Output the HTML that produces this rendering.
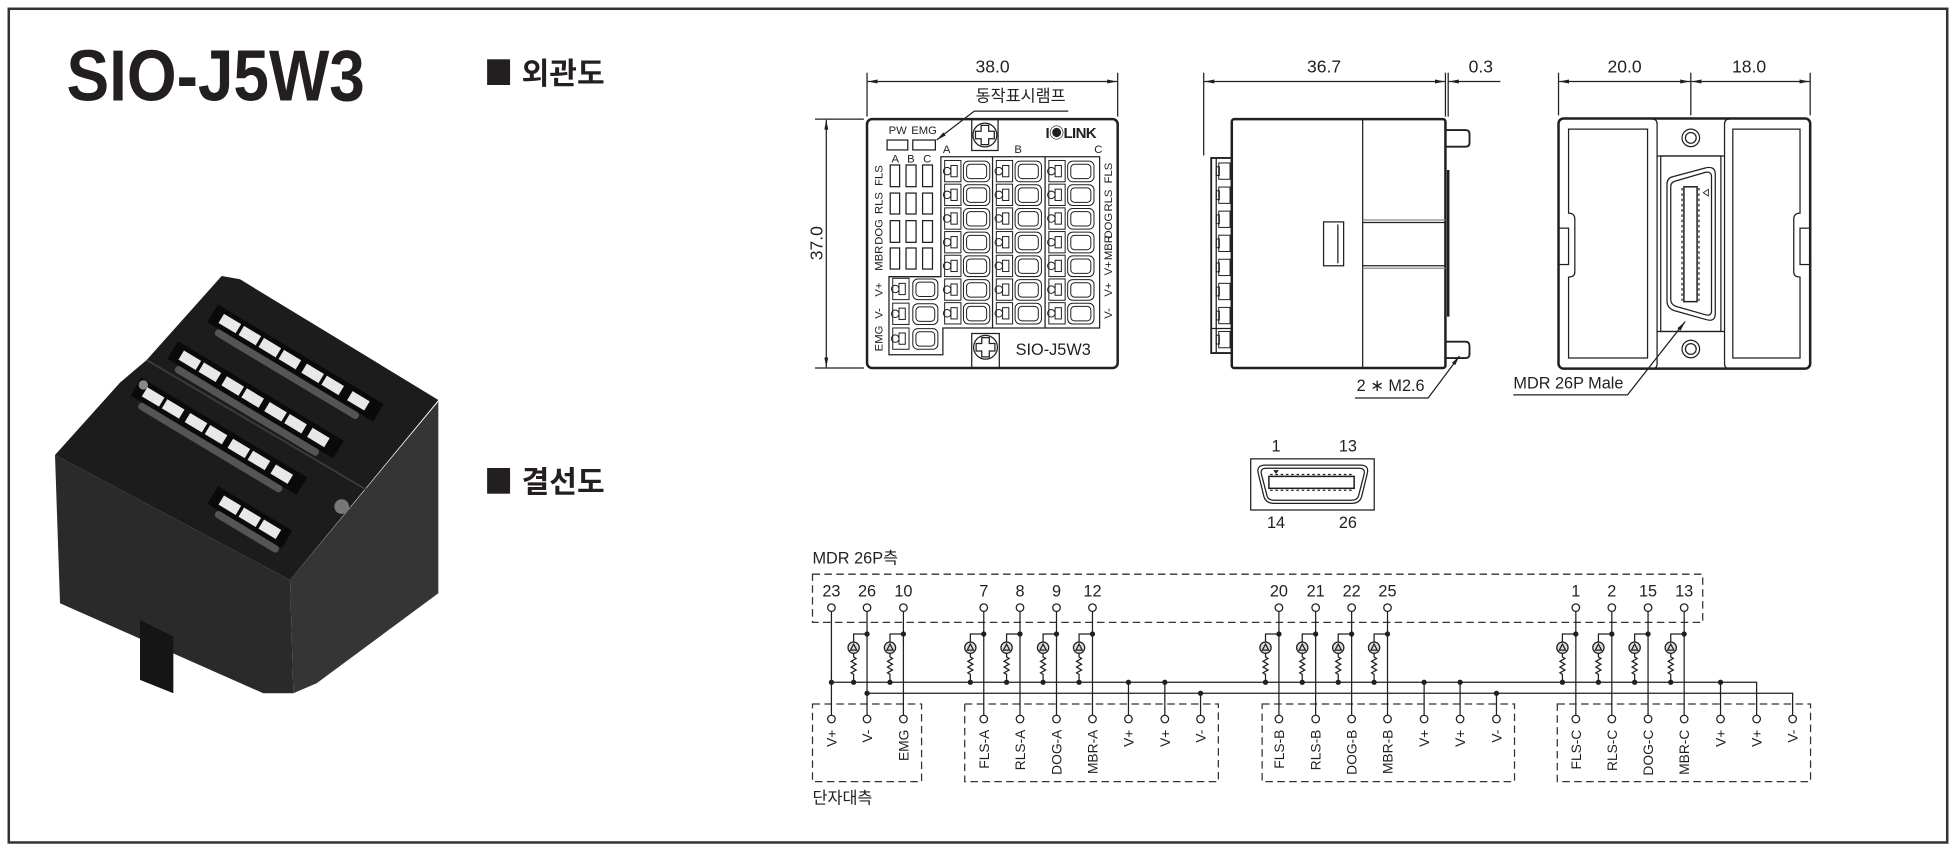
<!DOCTYPE html>
<html><head><meta charset="utf-8"><style>
html,body{margin:0;padding:0;background:#fff;}
svg{display:block;}
text{font-family:"Liberation Sans","Noto Sans CJK KR",sans-serif;fill:#231f20;}
</style></head><body>
<svg xmlns="http://www.w3.org/2000/svg" width="1956" height="850" viewBox="0 0 1560 678" preserveAspectRatio="none">
<defs>
<marker id="ar" viewBox="0 0 10 4" refX="10" refY="2" markerWidth="8" markerHeight="3.2" markerUnits="userSpaceOnUse" orient="auto-start-reverse"><path d="M0 0 L10 2 L0 4 Z" fill="#231f20"/></marker>
</defs>
<rect x="0" y="0" width="1560" height="678" fill="#fff"/>
<rect x="7" y="7" width="1546" height="665" fill="none" stroke="#333" stroke-width="2"/>

<!-- Title -->
<text x="53" y="80" font-size="58" font-weight="bold" textLength="238" lengthAdjust="spacingAndGlyphs">SIO-J5W3</text>
<rect x="388.5" y="47.3" width="18.3" height="20.5" fill="#231f20"/>
<text x="416" y="67" font-size="24" font-weight="bold">외관도</text>
<rect x="388.5" y="373.3" width="18.3" height="20.5" fill="#231f20"/>
<text x="416" y="393" font-size="24" font-weight="bold">결선도</text>

<!-- Photo -->
<g transform="translate(23.93,207.37) scale(0.26585)">
<polygon points="75,585 780,960 790,1300 700,1300 90,1030" fill="#2a2a2a"/>
<polygon points="780,960 1225,425 1225,1000 860,1270 790,1300" fill="#353535"/>
<polygon points="75,585 270,368 350,300 575,48 630,58 1225,420 780,960" fill="#1c1c1c"/>
<polygon points="330,1080 430,1130 430,1300 330,1260" fill="#151515"/>
<line x1="350" y1="300" x2="1010" y2="690" stroke="#3a3a3a" stroke-width="6"/>
<g fill="#0a0a0a">
<g transform="rotate(31 600 190)"><rect x="540" y="160" width="580" height="62"/></g>
<g transform="rotate(31 480 300)"><rect x="420" y="270" width="580" height="62"/></g>
<g transform="rotate(31 370 410)"><rect x="310" y="380" width="580" height="62"/></g>
<g transform="rotate(31 600 735)"><rect x="540" y="705" width="260" height="62"/></g>
</g>
<g fill="#555">
<g transform="rotate(31 600 190)"><rect x="575" y="222" width="500" height="22" rx="10"/></g>
<g transform="rotate(31 480 300)"><rect x="455" y="332" width="500" height="22" rx="10"/></g>
<g transform="rotate(31 370 410)"><rect x="345" y="442" width="500" height="22" rx="10"/></g>
<g transform="rotate(31 600 735)"><rect x="575" y="767" width="220" height="22" rx="10"/></g>
</g>
<g fill="#e8e8e8">
<g transform="rotate(31 600 190)"><rect x="570" y="175" width="60" height="32"/><rect x="640" y="175" width="60" height="32"/><rect x="710" y="175" width="60" height="32"/><rect x="780" y="175" width="60" height="32"/><rect x="860" y="175" width="60" height="32"/><rect x="930" y="175" width="60" height="32"/><rect x="1020" y="175" width="60" height="32"/></g>
<g transform="rotate(31 480 300)"><rect x="450" y="285" width="60" height="32"/><rect x="520" y="285" width="60" height="32"/><rect x="600" y="285" width="60" height="32"/><rect x="670" y="285" width="60" height="32"/><rect x="750" y="285" width="60" height="32"/><rect x="820" y="285" width="60" height="32"/><rect x="900" y="285" width="60" height="32"/></g>
<g transform="rotate(31 370 410)"><rect x="340" y="395" width="60" height="32"/><rect x="410" y="395" width="60" height="32"/><rect x="490" y="395" width="60" height="32"/><rect x="560" y="395" width="60" height="32"/><rect x="640" y="395" width="60" height="32"/><rect x="710" y="395" width="60" height="32"/><rect x="790" y="395" width="60" height="32"/></g>
<g transform="rotate(31 600 735)"><rect x="570" y="720" width="60" height="32"/><rect x="640" y="720" width="60" height="32"/><rect x="710" y="720" width="60" height="32"/></g>
</g>
<circle cx="935" cy="740" r="22" fill="#777"/>
<circle cx="340" cy="375" r="14" fill="#888"/>
</g>

<!-- ===== Front view ===== -->
<g fill="none" stroke="#231f20" stroke-width="1">
<line x1="691.5" y1="58" x2="691.5" y2="93"/>
<line x1="891.4" y1="58" x2="891.4" y2="93"/>
<line x1="692" y1="65" x2="891" y2="65" marker-start="url(#ar)" marker-end="url(#ar)"/>
<line x1="650" y1="95" x2="689" y2="95"/>
<line x1="650" y1="293.5" x2="689" y2="293.5"/>
<line x1="659" y1="95.5" x2="659" y2="293" marker-start="url(#ar)" marker-end="url(#ar)"/>
<rect x="691.5" y="95" width="199.9" height="198.5" rx="4" stroke-width="2"/>
<polyline points="852,88.6 777,88.6 747,111.7" marker-end="url(#ar)"/>
<path d="M775 95 V120 H796 V95"/>
<circle cx="785.5" cy="107.7" r="9.5"/>
<path d="M782.5 100 H788.5 V104.7 H793 V110.7 H788.5 V115.4 H782.5 V110.7 H778 V104.7 H782.5 Z"/>
<path d="M775 293.5 V266 H797 V293.5"/>
<circle cx="786" cy="277" r="9.5"/>
<path d="M783 269.3 H789 V274 H793.5 V280 H789 V284.7 H783 V280 H778.5 V274 H783 Z"/>
<rect x="707.5" y="111.7" width="16.5" height="7.9"/>
<rect x="728" y="111.7" width="18" height="7.9"/>
<rect x="710" y="131.6" width="7.5" height="17.3"/><rect x="722.6" y="131.6" width="8" height="17.3"/><rect x="735.8" y="131.6" width="7.9" height="17.3"/>
<rect x="710" y="154" width="7.5" height="16.7"/><rect x="722.6" y="154" width="8" height="16.7"/><rect x="735.8" y="154" width="7.9" height="16.7"/>
<rect x="710" y="176" width="7.5" height="17.3"/><rect x="722.6" y="176" width="8" height="17.3"/><rect x="735.8" y="176" width="7.9" height="17.3"/>
<rect x="710" y="197.8" width="7.5" height="16.8"/><rect x="722.6" y="197.8" width="8" height="16.8"/><rect x="735.8" y="197.8" width="7.9" height="16.8"/>
<path d="M750.4 125 H877 V261.6 H752 V283 H709 V220.7 H750.4 Z"/>
<line x1="791.6" y1="125" x2="791.6" y2="261.6"/>
<line x1="833.5" y1="125" x2="833.5" y2="261.6"/>
</g>
<g id="termrows" fill="none" stroke="#231f20" stroke-width="0.8"></g>
<g font-size="9">
<text x="716" y="107" text-anchor="middle" font-size="9">PW</text>
<text x="737" y="107" text-anchor="middle" font-size="9">EMG</text>
<text x="714" y="129.5" text-anchor="middle">A</text>
<text x="726.5" y="129.5" text-anchor="middle">B</text>
<text x="739.5" y="129.5" text-anchor="middle">C</text>
<text x="755" y="122" text-anchor="middle">A</text>
<text x="812" y="122" text-anchor="middle">B</text>
<text x="876" y="122" text-anchor="middle">C</text>
<g transform="translate(704,140) rotate(-90)"><text text-anchor="middle">FLS</text></g>
<g transform="translate(704,162) rotate(-90)"><text text-anchor="middle">RLS</text></g>
<g transform="translate(704,185) rotate(-90)"><text text-anchor="middle">DOG</text></g>
<g transform="translate(704,206) rotate(-90)"><text text-anchor="middle">MBR</text></g>
<g transform="translate(704,231) rotate(-90)"><text text-anchor="middle">V+</text></g>
<g transform="translate(704,250) rotate(-90)"><text text-anchor="middle">V-</text></g>
<g transform="translate(704,270) rotate(-90)"><text text-anchor="middle">EMG</text></g>
<g transform="translate(887,138) rotate(-90)"><text text-anchor="middle">FLS</text></g>
<g transform="translate(887,160) rotate(-90)"><text text-anchor="middle">RLS</text></g>
<g transform="translate(887,180) rotate(-90)"><text text-anchor="middle">DOG</text></g>
<g transform="translate(887,197.5) rotate(-90)"><text text-anchor="middle">MBR</text></g>
<g transform="translate(887,214) rotate(-90)"><text text-anchor="middle">V+</text></g>
<g transform="translate(887,231) rotate(-90)"><text text-anchor="middle">V+</text></g>
<g transform="translate(887,250) rotate(-90)"><text text-anchor="middle">V-</text></g>
</g>
<text x="791.6" y="58" font-size="14" text-anchor="middle">38.0</text>
<g transform="translate(656,194) rotate(-90)"><text font-size="14" text-anchor="middle">37.0</text></g>
<text x="814" y="81" font-size="13" text-anchor="middle">동작표시램프</text>
<text x="854" y="110" font-size="12" font-weight="bold" text-anchor="middle" letter-spacing="-0.5">I◉LINK</text>
<text x="840" y="283" font-size="13" text-anchor="middle">SIO-J5W3</text>

<!-- ===== Side view ===== -->
<g fill="none" stroke="#231f20" stroke-width="1">
<line x1="960" y1="58" x2="960" y2="124"/>
<line x1="1152.8" y1="58" x2="1152.8" y2="93"/>
<line x1="1155" y1="58" x2="1155" y2="93"/>
<line x1="960.5" y1="65" x2="1152.3" y2="65" marker-start="url(#ar)" marker-end="url(#ar)"/>
<line x1="1196.6" y1="65" x2="1155.5" y2="65" marker-end="url(#ar)"/>
<rect x="982.4" y="95" width="170.4" height="198.5" rx="2" stroke-width="2"/>
<rect x="966" y="126" width="16.4" height="155.6" stroke-width="1.5"/>
<line x1="970" y1="126" x2="970" y2="281.6"/>
<line x1="966" y1="262" x2="982" y2="262"/>
<line x1="1086.8" y1="95" x2="1086.8" y2="293.5"/>
<line x1="1086.8" y1="175.5" x2="1152.8" y2="175.5" stroke="#888"/>
<line x1="1086.8" y1="177.5" x2="1152.8" y2="177.5"/>
<line x1="1086.8" y1="212" x2="1152.8" y2="212"/>
<line x1="1086.8" y1="214" x2="1152.8" y2="214" stroke="#888"/>
<rect x="1055.6" y="177" width="16" height="35"/>
<line x1="1067" y1="179" x2="1067" y2="210"/>
<line x1="1155" y1="135.6" x2="1155" y2="252.6" stroke-width="2"/>
<path d="M1153 103.7 H1169 Q1172 103.7 1172 107 V114 Q1172 117 1169 117 H1153" stroke-width="1.5"/>
<path d="M1153 272.5 H1169 Q1172 272.5 1172 276 V282.5 Q1172 285.6 1169 285.6 H1153" stroke-width="1.5"/>
<polyline points="1080.7,317.5 1139,317.5 1164,284" marker-end="url(#ar)"/>
</g>
<g id="siderows" fill="none" stroke="#231f20" stroke-width="0.8"></g>
<text x="1056" y="58" font-size="14" text-anchor="middle">36.7</text>
<text x="1181" y="58" font-size="14" text-anchor="middle">0.3</text>
<text x="1082" y="312" font-size="13">2 ∗ M2.6</text>

<!-- ===== Back view ===== -->
<g fill="none" stroke="#231f20" stroke-width="1">
<line x1="1243" y1="58" x2="1243" y2="92"/>
<line x1="1348.5" y1="58" x2="1348.5" y2="92"/>
<line x1="1443.7" y1="58" x2="1443.7" y2="92"/>
<line x1="1243.5" y1="65" x2="1348" y2="65" marker-start="url(#ar)" marker-end="url(#ar)"/>
<line x1="1349" y1="65" x2="1443.2" y2="65" marker-start="url(#ar)" marker-end="url(#ar)"/>
<rect x="1243" y="94.5" width="200.7" height="199.5" rx="4" stroke-width="2"/>
<path d="M1318 95 Q1321.6 95 1321.6 99 V290 Q1321.6 294 1318 294"/>
<path d="M1379 95 Q1375.4 95 1375.4 99 V290 Q1375.4 294 1379 294"/>
<path d="M1251 103 H1314 V285.6 H1251 V221 Q1256 221 1256 217 V175 Q1256 170 1251 170 Z"/>
<rect x="1243" y="182" width="8" height="29"/>
<path d="M1435.6 103 H1382 V285.6 H1435.6 V221 Q1430.6 221 1430.6 217 V175 Q1430.6 170 1435.6 170 Z"/>
<rect x="1435.6" y="182" width="8" height="29"/>
<rect x="1324.5" y="124.4" width="48" height="140"/>
<line x1="1321.6" y1="124.4" x2="1375.4" y2="124.4"/>
<line x1="1321.6" y1="264.4" x2="1375.4" y2="264.4"/>
<circle cx="1348.5" cy="110" r="7"/><circle cx="1348.5" cy="110" r="4.3"/>
<circle cx="1348.5" cy="278.4" r="7"/><circle cx="1348.5" cy="278.4" r="4.3"/>
<path d="M1334 141 L1360 134 Q1368 132 1368 139 V250 Q1368 257 1361 255 L1336 248 Q1329.5 246 1329.5 240 V147 Q1329.5 142 1334 141 Z"/>
<path d="M1336 144.5 L1360 137.5 Q1365 136.5 1365 141 V248 Q1365 252.5 1360 251 L1337 244.5 Q1332.5 243 1332.5 239 V149 Q1332.5 145.5 1336 144.5 Z"/>
<rect x="1343" y="149" width="10.5" height="91.6" stroke-width="1.2"/>
<line x1="1341.5" y1="150" x2="1341.5" y2="240" stroke-dasharray="2 2.2"/>
<line x1="1355" y1="150" x2="1355" y2="240" stroke-dasharray="2 2.2"/>
<path d="M1362.5 151 L1358.5 153.7 L1362.5 156.4 Z" stroke-width="0.7"/>
<polyline points="1207,315 1298,315 1344,256.5" marker-end="url(#ar)"/>
</g>
<text x="1295.7" y="58" font-size="14" text-anchor="middle">20.0</text>
<text x="1395" y="58" font-size="14" text-anchor="middle">18.0</text>
<text x="1207" y="310" font-size="13">MDR 26P Male</text>

<!-- ===== Connector icon ===== -->
<g fill="none" stroke="#231f20" stroke-width="1">
<rect x="997.5" y="366" width="98.5" height="40.8"/>
<path d="M1009 371 H1085 Q1092 371 1090.5 377.5 L1086 396 Q1084.5 401.5 1078 401.5 H1016 Q1009.5 401.5 1008 396 L1003.5 377.5 Q1002 371 1009 371 Z"/>
<path d="M1010 373.5 H1084 Q1089 373.5 1088 378 L1083.5 395.5 Q1082.5 399 1078 399 H1016 Q1011.5 399 1010.5 395.5 L1006 378 Q1005 373.5 1010 373.5 Z"/>
<rect x="1012" y="380" width="68" height="9.5" stroke-width="1.2"/>
<line x1="1013" y1="378.5" x2="1079" y2="378.5" stroke-dasharray="2 2.2"/>
<line x1="1013" y1="391" x2="1079" y2="391" stroke-dasharray="2 2.2"/>
</g>
<path d="M1015.5 375 L1020 375 L1017.7 378 Z" fill="#231f20"/>
<g font-size="13" text-anchor="middle">
<text x="1017.7" y="360">1</text><text x="1075" y="360">13</text>
<text x="1017.7" y="421">14</text><text x="1075" y="421">26</text>
</g>

<!-- ===== Schematic ===== -->
<text x="648" y="449.5" font-size="13">MDR 26P측</text>
<text x="648" y="641" font-size="13">단자대측</text>
<g fill="none" stroke="#333" stroke-width="1" stroke-dasharray="6 3.5">
<rect x="648" y="458" width="710" height="38.4"/>
<rect x="648" y="561.5" width="87" height="62"/>
<rect x="769.4" y="561.5" width="202.3" height="62"/>
<rect x="1006.6" y="561.5" width="201.3" height="62"/>
<rect x="1242" y="561.5" width="202" height="62"/>
</g>
<g id="sch" fill="none" stroke="#231f20" stroke-width="1"></g>
<g id="schtext" font-size="13" text-anchor="middle"></g>
<g id="schlab" font-size="11" text-anchor="end"></g>
</svg>
<script>
(function(){
var NS="http://www.w3.org/2000/svg";
function el(parent,tag,attrs,txt){var e=document.createElementNS(NS,tag);for(var k in attrs)e.setAttribute(k,attrs[k]);if(txt!==undefined)e.textContent=txt;document.getElementById(parent).appendChild(e);return e;}
var groups=[750.4,791.6,833.5];
for(var g=0;g<3;g++){var gx=groups[g];
 for(var i=0;i<7;i++){var y=128+i*18.9;
  el("termrows","rect",{x:gx+3,y:y,width:13,height:17});
  el("termrows","circle",{cx:gx+5,cy:y+8.5,r:3});
  el("termrows","rect",{x:gx+8,y:y+4,width:5,height:9});
  el("termrows","rect",{x:gx+18,y:y+0.5,width:21,height:16.5,rx:4});
  el("termrows","rect",{x:gx+20.5,y:y+3,width:16,height:11.5,rx:3});
 }}
for(var i=0;i<3;i++){var y=222+i*19.8,gx=709;
  el("termrows","rect",{x:gx+3,y:y,width:13,height:17});
  el("termrows","circle",{cx:gx+5,cy:y+8.5,r:3});
  el("termrows","rect",{x:gx+8,y:y+4,width:5,height:9});
  el("termrows","rect",{x:gx+19,y:y+0.5,width:20,height:16.5,rx:4});
  el("termrows","rect",{x:gx+21.5,y:y+3,width:15,height:11.5,rx:3});
}
for(var i=0;i<8;i++){var y=130+i*19.2;
  el("siderows","rect",{x:972,y:y,width:9,height:13});
  el("siderows","rect",{x:970,y:y+3,width:2.5,height:7});
}
var lampPins=[691.5,720.5,784.6,813.5,842.6,871.3,1020,1049.3,1078,1106.6,1256.8,1285.5,1314.4,1343.2];
var topPins=[[663.1,"23"],[691.5,"26"],[720.5,"10"],[784.6,"7"],[813.5,"8"],[842.6,"9"],[871.3,"12"],[1020,"20"],[1049.3,"21"],[1078,"22"],[1106.6,"25"],[1256.8,"1"],[1285.5,"2"],[1314.4,"15"],[1343.2,"13"]];
var Ytop=484.7,Ybot=573.5,Yj=505.7,Ylamp=516.6,YVp=544.2,YVm=553;
function dot(x,y){el("sch","circle",{cx:x,cy:y,r:2.1,fill:"#231f20",stroke:"none"});}
topPins.forEach(function(p){
 el("sch","circle",{cx:p[0],cy:Ytop,r:3,fill:"#fff"});
 el("schtext","text",{x:p[0],y:476},p[1]);
 el("sch","line",{x1:p[0],y1:Ytop+3,x2:p[0],y2:Ybot-3});
});
lampPins.forEach(function(p){
 var lx=p-10.7;
 dot(p,Yj);
 el("sch","path",{d:"M"+p+" "+Yj+" H"+lx+" V"+(Ylamp-4.5)});
 el("sch","circle",{cx:lx,cy:Ylamp,r:4.5,fill:"#ddd"});
 el("sch","path",{d:"M"+(lx-2.5)+" "+(Ylamp+2)+" L"+lx+" "+(Ylamp-2.8)+" L"+(lx+2.5)+" "+(Ylamp+2)+" Z"});
 el("sch","path",{d:"M"+lx+" "+(Ylamp+4.5)+" V524 l2 1.2 l-4 2.3 l4 2.3 l-4 2.3 l4 2.3 l-4 2.3 l2 1.2 V"+YVp});
 dot(lx,YVp);
});
el("sch","path",{d:"M663.1 "+YVp+" H1401 V"+(Ybot-3)});
el("sch","path",{d:"M691.5 "+YVm+" H1429.7 V"+(Ybot-3)});
dot(663.1,YVp);dot(691.5,YVm);
[900,929,1135.8,1164.5,1372.2].forEach(function(x){dot(x,YVp);el("sch","line",{x1:x,y1:YVp,x2:x,y2:Ybot-3});});
[957.5,1193.5].forEach(function(x){dot(x,YVm);el("sch","line",{x1:x,y1:YVm,x2:x,y2:Ybot-3});});
var bot=[[663.1,"V+"],[691.5,"V-"],[720.5,"EMG"],
[784.6,"FLS-A"],[813.5,"RLS-A"],[842.6,"DOG-A"],[871.3,"MBR-A"],[900,"V+"],[929,"V+"],[957.5,"V-"],
[1020,"FLS-B"],[1049.3,"RLS-B"],[1078,"DOG-B"],[1106.6,"MBR-B"],[1135.8,"V+"],[1164.5,"V+"],[1193.5,"V-"],
[1256.8,"FLS-C"],[1285.5,"RLS-C"],[1314.4,"DOG-C"],[1343.2,"MBR-C"],[1372.2,"V+"],[1401,"V+"],[1429.7,"V-"]];
bot.forEach(function(b){
 el("sch","circle",{cx:b[0],cy:Ybot,r:3,fill:"#fff"});
 el("schlab","text",{x:0,y:0,transform:"translate("+(b[0]+4)+",582) rotate(-90)"},b[1]);
});
})();
</script>
</body></html>
